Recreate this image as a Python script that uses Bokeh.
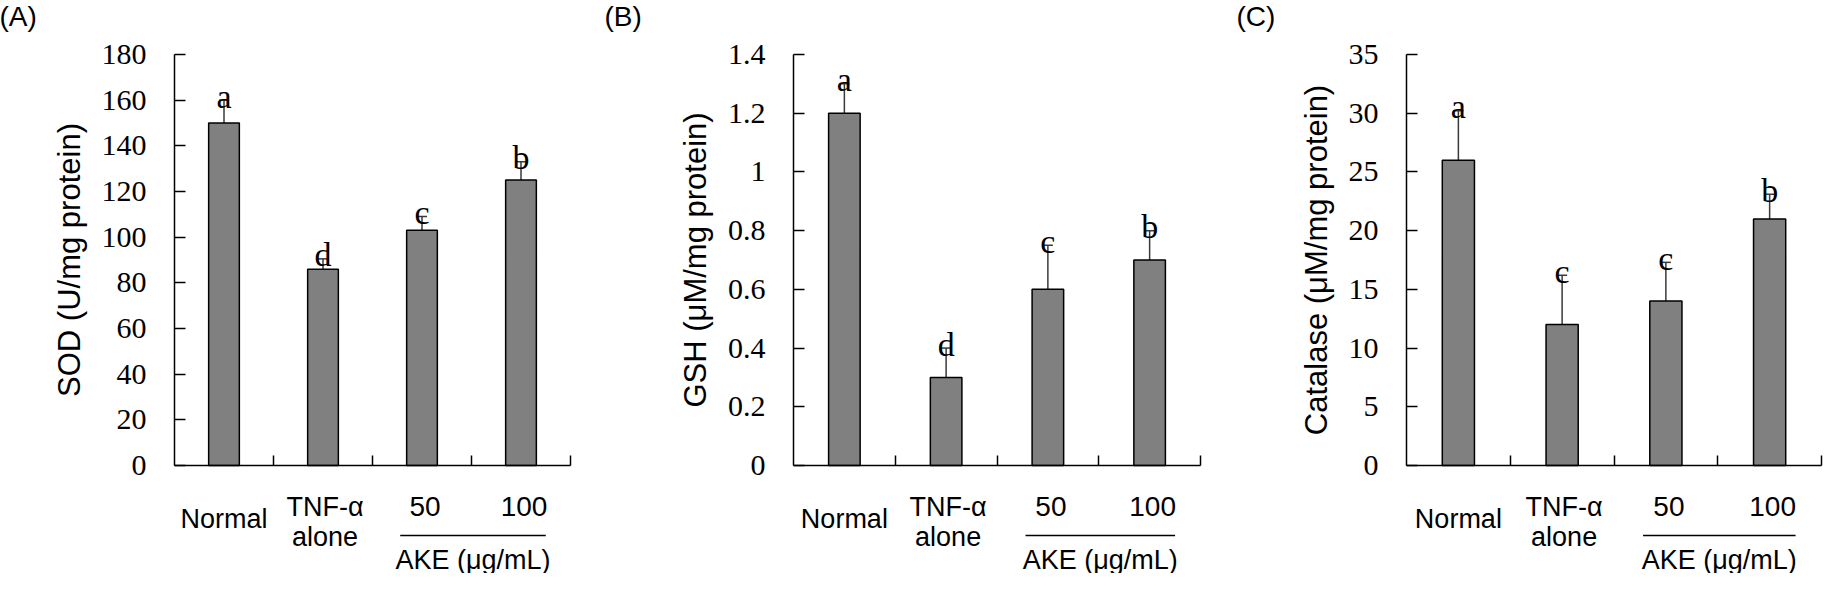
from bokeh.plotting import figure
from bokeh.layouts import row
from bokeh.models import (Range1d, FixedTicker, ColumnDataSource, Whisker,
                          TeeHead, Label, Arrow, LinearAxis)
from bokeh.core.properties import value
from bokeh.embed import file_html
from bokeh.resources import INLINE

# ---------------- data ----------------
categories = ["Normal", "TNF-α\nalone", "50", "100"]
group_members = [2, 3]
group_label = "AKE (μg/mL)"
panel_tags = ["(A)", "(B)", "(C)"]
y_titles = ["SOD (U/mg protein)", "GSH (μM/mg protein)", "Catalase (μM/mg protein)"]

sod_mean = [150, 86, 103, 125]
sod_err = [10, 4.5, 6, 8]
sod_letters = ["a", "d", "c", "b"]
sod_ticks = [0, 20, 40, 60, 80, 100, 120, 140, 160, 180]
sod_tick_labels = ["0", "20", "40", "60", "80", "100", "120", "140", "160", "180"]

gsh_mean = [1.2, 0.3, 0.6, 0.7]
gsh_err = [0.1, 0.1, 0.15, 0.1]
gsh_letters = ["a", "d", "c", "b"]
gsh_ticks = [0, 0.2, 0.4, 0.6, 0.8, 1, 1.2, 1.4]
gsh_tick_labels = ["0", "0.2", "0.4", "0.6", "0.8", "1", "1.2", "1.4"]

cat_mean = [26, 12, 14, 21]
cat_err = [4.2, 4.2, 3.3, 2.1]
cat_letters = ["a", "c", "c", "b"]
cat_ticks = [0, 5, 10, 15, 20, 25, 30, 35]
cat_tick_labels = ["0", "5", "10", "15", "20", "25", "30", "35"]

# ---------------- layout (page pixels) ----------------
H = 573
TOP = 8
FT, FB = 62, 473
FH = FB - FT
SANS = "Liberation Sans"
SERIF = "Liberation Serif"
N = len(categories)
INK = "black"


def make_panel(tag, ytitle, means, errs, letters, ticks, tick_labels,
               fig_x0, fig_w, FL, FW, tag_x):
    ymax = ticks[-1]
    k = FW / N
    s = FH / ymax

    def px2x(px):
        return (px - FL) / k

    def px2y(py):
        return (FB - py) / s

    p = figure(width=fig_w, height=H,
               x_range=Range1d(px2x(fig_x0), px2x(fig_x0 + fig_w)),
               y_range=Range1d(px2y(TOP + H), px2y(TOP)),
               x_axis_location=None, y_axis_location=None,
               output_backend="svg", toolbar_location=None,
               min_border=0, min_border_left=0, min_border_right=0,
               min_border_top=0, min_border_bottom=0)
    p.xgrid.visible = False
    p.ygrid.visible = False
    p.outline_line_color = None
    p.background_fill_color = "white"
    p.border_fill_color = "white"

    xs = [i + 0.5 for i in range(N)]
    uppers = [m + e for m, e in zip(means, errs)]
    src = ColumnDataSource(dict(
        x=xs, mean=means, upper=uppers, letter=letters,
        ly=[u + 4 / s for u in uppers]))

    w = Whisker(source=src, base="x", upper="upper", lower="mean", dimension="height",
                line_color="#3a3a3a", line_width=1.5,
                upper_head=TeeHead(size=10, line_color="#3a3a3a", line_width=1.5),
                lower_head=None)
    p.add_layout(w)
    p.vbar(x="x", top="mean", bottom=0, width=0.31, source=src,
           fill_color="#808080", line_color=INK, line_width=1.5)
    p.text(x="x", y="ly", text="letter", source=src, text_align="center",
           text_baseline="alphabetic", text_font=value(SERIF), text_font_size="34px",
           text_color=INK)

    ya = LinearAxis(fixed_location=0, bounds=(0, ymax),
                    ticker=FixedTicker(ticks=ticks),
                    major_label_overrides=dict(zip(ticks, tick_labels)),
                    major_tick_in=11, major_tick_out=0,
                    minor_tick_line_color=None,
                    axis_line_width=1.5, major_tick_line_width=1.5,
                    axis_line_color=INK, major_tick_line_color=INK,
                    major_label_text_font=SERIF, major_label_text_font_size="30px",
                    major_label_text_color=INK, major_label_standoff=28,
                    axis_label=ytitle, axis_label_text_font=SANS,
                    axis_label_text_font_size="31px",
                    axis_label_text_font_style="normal",
                    axis_label_text_color=INK, axis_label_standoff=12)
    p.add_layout(ya, "left")

    bticks = list(range(1, N + 1))
    xa = LinearAxis(fixed_location=0, bounds=(0, N),
                    ticker=FixedTicker(ticks=bticks),
                    major_label_overrides={t: "" for t in bticks},
                    major_tick_in=10, major_tick_out=0,
                    minor_tick_line_color=None,
                    axis_line_width=1.5, major_tick_line_width=1.5,
                    axis_line_color=INK, major_tick_line_color=INK)
    p.add_layout(xa, "below")

    def lab(x, y, text, size, align="center"):
        p.add_layout(Label(x=x, y=y, text=text, text_align=align,
                           text_baseline="middle", text_font=SANS,
                           text_font_size=size, text_color=INK))

    # category labels below the axis
    for i, c in enumerate(categories):
        cx = FL + (i + 0.5) * k
        if i in group_members:
            lab(px2x(cx + 3), px2y(FB + 41), c, "28px")
        elif "\n" in c:
            l1, l2 = c.split("\n")
            lab(px2x(cx + 2), px2y(FB + 41), l1, "27px")
            lab(px2x(cx + 2), px2y(FB + 71), l2, "27px")
        else:
            lab(px2x(cx), px2y(FB + 53), c, "27px")
    gx0, gx1 = 2.28, 3.75
    p.add_layout(Arrow(end=None, x_start=gx0, x_end=gx1, y_start=px2y(FB + 70),
                       y_end=px2y(FB + 70), line_color=INK, line_width=1.5))
    lab((gx0 + gx1) / 2, px2y(FB + 94), group_label, "27px")
    # panel tag
    lab(px2x(tag_x), px2y(24), tag, "28px", align="left")
    return p


pA = make_panel(panel_tags[0], y_titles[0], sod_mean, sod_err, sod_letters,
                sod_ticks, sod_tick_labels, 8, 592, 182, 396, 7)
pB = make_panel(panel_tags[1], y_titles[1], gsh_mean, gsh_err, gsh_letters,
                gsh_ticks, gsh_tick_labels, 600, 620, 801, 407, 612)
pC = make_panel(panel_tags[2], y_titles[2], cat_mean, cat_err, cat_letters,
                cat_ticks, cat_tick_labels, 1220, 612, 1414, 415, 1244)

layout = row(pA, pB, pC)
open("out.html", "w").write(file_html(layout, INLINE))
